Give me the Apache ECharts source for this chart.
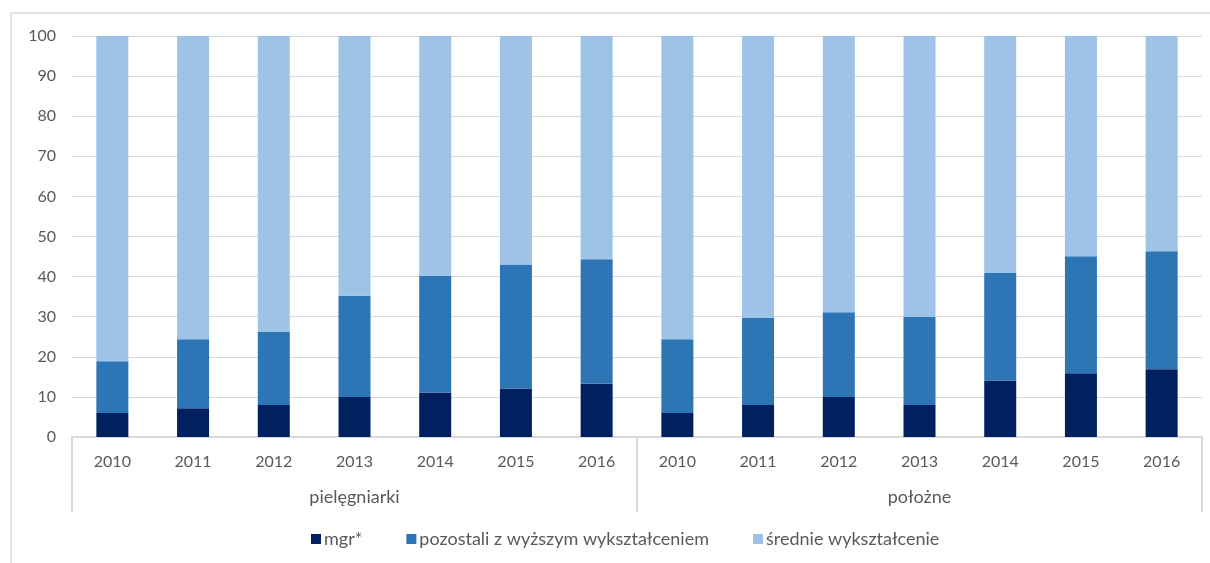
<!DOCTYPE html>
<html>
<head>
<meta charset="utf-8">
<script src="https://cdn.jsdelivr.net/npm/echarts@6/dist/echarts.min.js"></script>
<style>
html,body{margin:0;padding:0;background:#fff;}
#chart{width:1210px;height:563px;}
</style>
</head>
<body>
<div id="chart"></div>
<script>
const years = ['2010','2011','2012','2013','2014','2015','2016'];
const groups = ['pielęgniarki','położne'];
const categories = years.concat(years);
const seriesNames = ['mgr*','pozostali z wyższym wykształceniem','średnie wykształcenie'];
// mgr* share (%)
const mgr = [6.0, 7.2, 8.0, 10.0, 11.1, 12.1, 13.3,   6.0, 8.0, 10.0, 8.0, 14.1, 15.9, 16.9];
const higherTotal = [18.9, 24.4, 26.2, 35.2, 40.2, 43.0, 44.3,   24.4, 29.7, 31.1, 30.0, 40.9, 45.1, 46.3];
const pozostali = higherTotal.map((t,i)=> +(t - mgr[i]).toFixed(1));
const srednie = higherTotal.map(t => +(100 - t).toFixed(1));
const yTicks = {min:0, max:100, interval:10};

const colors = ['#002060','#2E75B6','#9DC3E6'];
const txt = '#595959';
const font = 'Lato';
const chart = echarts.init(document.getElementById('chart'), null, {renderer:'canvas'});
const mk = (name, data, c) => ({
  name, type:'bar', stack:'s', data, barWidth:32,
  itemStyle:{color:c}, xAxisIndex:0, yAxisIndex:0
});
chart.setOption({
  animation:false,
  textStyle:{fontFamily:font},
  graphic:[{type:'rect', shape:{x:11,y:13,width:1210,height:600}, style:{fill:'none', stroke:'#d9d9d9', lineWidth:1.5}, silent:true, z:-10}],
  grid:{left:72, right:8, top:36, bottom:126, containLabel:false},
  legend:{
    bottom:10, left:306, itemWidth:10, itemHeight:10, itemGap:44,
    icon:'rect',
    textStyle:{color:txt, fontSize:18, fontFamily:font, padding:[0,0,0,-2]},
    data:seriesNames
  },
  xAxis:[
    {type:'category', data:categories, position:'bottom',
     axisLine:{show:true, lineStyle:{color:'#d9d9d9', width:2}},
     axisTick:{show:false},
     axisLabel:{color:txt, fontSize:16, fontFamily:font, margin:17}},
    {type:'category', data:groups, position:'bottom', offset:0,
     axisLine:{show:false},
     axisTick:{show:true, length:75, alignWithLabel:false, lineStyle:{color:'#d9d9d9', width:2}},
     axisLabel:{color:txt, fontSize:18, fontFamily:font, margin:51},
     splitLine:{show:false}}
  ],
  yAxis:{type:'value', min:yTicks.min, max:yTicks.max, interval:yTicks.interval,
    axisLine:{show:false}, axisTick:{show:false},
    axisLabel:{color:txt, fontSize:16, fontFamily:font, margin:16},
    splitLine:{lineStyle:{color:'#d9d9d9', width:1}}},
  series:[
    mk(seriesNames[0], mgr, colors[0]),
    mk(seriesNames[1], pozostali, colors[1]),
    mk(seriesNames[2], srednie, colors[2])
  ]
});
</script>
</body>
</html>
